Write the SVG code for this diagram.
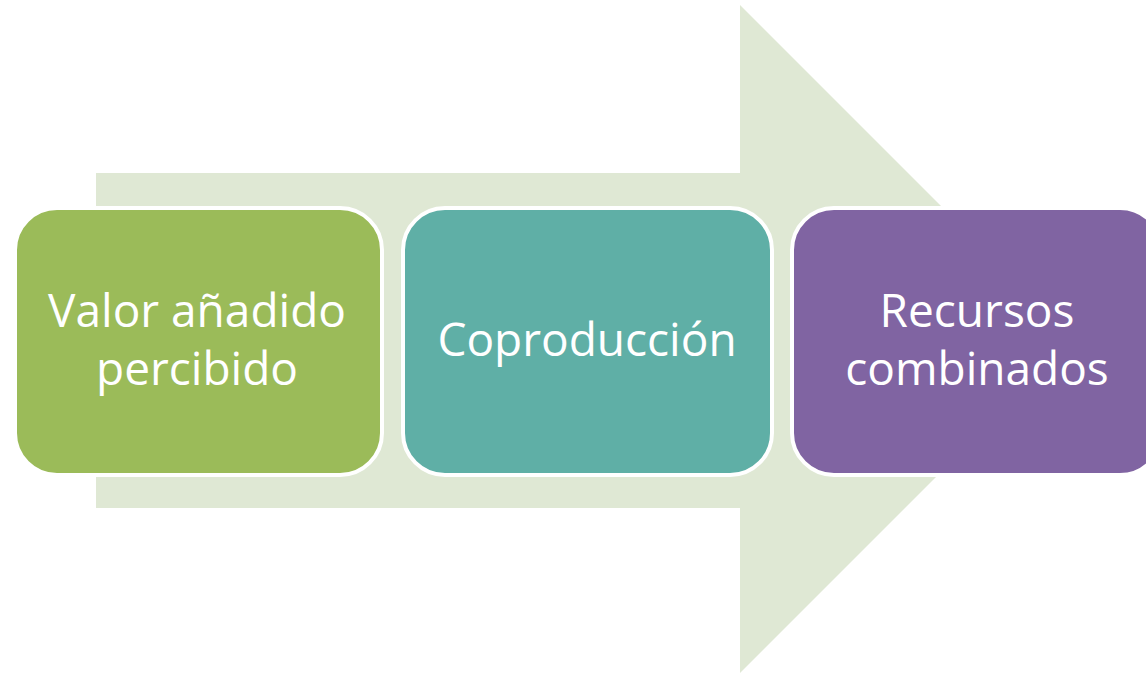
<svg xmlns="http://www.w3.org/2000/svg" width="1146" height="675" viewBox="0 0 1146 675">
<style>
.box{stroke:#ffffff;stroke-width:4}
.lbl{font-family:"Open Sans","Liberation Sans",sans-serif;font-size:46px;fill:#ffffff;text-anchor:middle}
</style>
<rect width="1146" height="675" fill="#ffffff"/>
<g id="connectors">
<polygon id="arrow" points="96,173 740,173 740,5 1074,339 740,673 740,508 96,508" fill="#DFE8D4"/>
</g>
<g id="node1">
<rect class="box" x="15" y="208" width="367" height="267" rx="42" fill="#9BBB59"/>
<text class="lbl" x="197" y="327">Valor añadido</text>
<text class="lbl" x="197" y="385">percibido</text>
</g>
<g id="node2">
<rect class="box" x="403" y="208" width="369" height="267" rx="42" fill="#5FAFA6"/>
<text class="lbl" x="587" y="356">Coproducción</text>
</g>
<g id="node3">
<rect class="box" x="792" y="208" width="370" height="267" rx="42" fill="#8064A2"/>
<text class="lbl" x="977" y="327">Recursos</text>
<text class="lbl" x="977" y="385">combinados</text>
</g>
</svg>
